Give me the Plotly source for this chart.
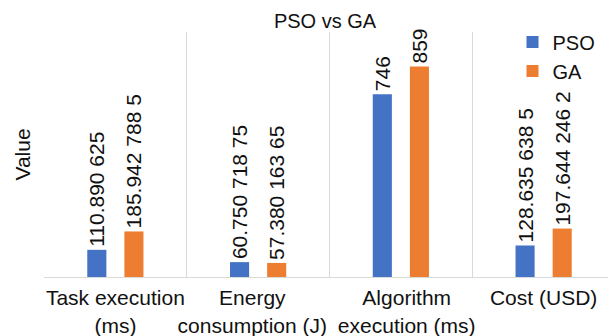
import plotly.graph_objects as go

categories = ["Task execution<br>(ms)", "Energy&nbsp;&nbsp;<br>consumption (J)&nbsp;&nbsp;",
              "&nbsp;&nbsp;Algorithm<br>&nbsp;&nbsp;execution (ms)", "Cost (USD)"]
pso_values = [110.890625, 60.75071875, 746, 128.6356385]
ga_values = [185.9427885, 57.38016365, 859, 197.6442462]
pso_labels = ["110.890 625", "60.750 718 75", "746", "128.635 638 5"]
ga_labels = ["185.942 788 5", "57.380 163 65", "859", "197.644 246 2"]

FONT = "Liberation Sans, Arial, sans-serif"
TXT = "#111111"
GRID = "#D9D9D9"

# page body has an 8px margin, so the figure is 8px smaller than the window
W, H = 608, 328

fig = go.Figure()
fig.add_trace(go.Bar(
    name="PSO", x=categories, y=pso_values, text=pso_labels,
    marker=dict(color="#4472C4", line=dict(width=0)),
    textposition="outside", textangle=-90, constraintext="none", cliponaxis=False,
    textfont=dict(family=FONT, size=21, color=TXT),
))
fig.add_trace(go.Bar(
    name="GA", x=categories, y=ga_values, text=ga_labels,
    marker=dict(color="#ED7D31", line=dict(width=0)),
    textposition="outside", textangle=-90, constraintext="none", cliponaxis=False,
    textfont=dict(family=FONT, size=21, color=TXT),
))

fig.update_layout(
    width=W, height=H,
    margin=dict(l=36, r=1, t=24, b=59),
    paper_bgcolor="white", plot_bgcolor="white",
    font=dict(family=FONT, size=21, color=TXT),
    barmode="group", bargap=0.48, bargroupgap=0.486,
    title=dict(text="PSO vs GA", x=317 / W, xanchor="center", xref="container",
               y=1 - 13 / H, yanchor="middle", yref="container",
               font=dict(family=FONT, size=20, color=TXT)),
    showlegend=True,
    legend=dict(x=0.8205, y=1.039, xanchor="left", yanchor="top", xref="paper", yref="paper",
                bgcolor="rgba(0,0,0,0)", font=dict(family=FONT, size=20, color=TXT),
                tracegroupgap=0, itemclick=False),
)
fig.update_xaxes(
    type="category", tickson="boundaries", showgrid=True, gridcolor=GRID, gridwidth=1,
    ticks="", showline=True, linecolor=GRID, linewidth=1, tickangle=0, automargin=False,
    ticklabelstandoff=2,
    tickfont=dict(family=FONT, size=21, color=TXT),
)
fig.update_yaxes(
    range=[0, 1000], showticklabels=False, showgrid=False, zeroline=False, ticks="",
    showline=False, automargin=False,
    title=dict(text="Value", standoff=6, font=dict(family=FONT, size=21, color=TXT)),
)

fig.write_html("out.html")
